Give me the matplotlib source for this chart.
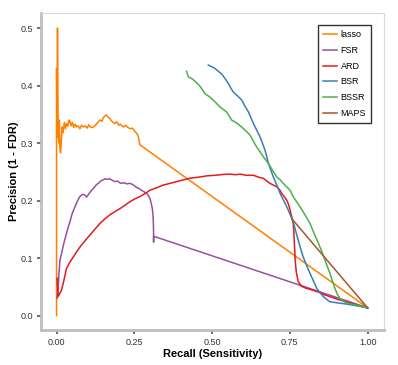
import numpy as np
import matplotlib
matplotlib.use('Agg')
import matplotlib.pyplot as plt

plt.rcParams['font.family'] = ['Liberation Sans', 'DejaVu Sans']

# precision-recall curves
lasso_recall = [0.0, 0.0, 0.002, 0.003, 0.004, 0.005, 0.007, 0.009, 0.011, 0.013, 0.015,
                0.018, 0.021, 0.025, 0.029, 0.032, 0.036, 0.040, 0.043, 0.047, 0.051,
                0.055, 0.060, 0.064, 0.070, 0.075, 0.080, 0.086, 0.092, 0.098, 0.104,
                0.110, 0.118, 0.125, 0.134, 0.140, 0.146, 0.150, 0.155, 0.160, 0.166,
                0.171, 0.176, 0.182, 0.188, 0.194, 0.200, 0.205, 0.209, 0.215, 0.222,
                0.230, 0.237, 0.244, 0.252, 0.258, 0.263, 0.268, 1.0]
lasso_prec = [0.0, 0.43, 0.31, 0.50, 0.40, 0.335, 0.30, 0.34, 0.29, 0.283, 0.30,
              0.328, 0.318, 0.336, 0.325, 0.334, 0.329, 0.340, 0.337, 0.330, 0.336,
              0.327, 0.333, 0.328, 0.330, 0.325, 0.331, 0.328, 0.330, 0.326, 0.332,
              0.327, 0.328, 0.331, 0.337, 0.340, 0.338, 0.344, 0.347, 0.349, 0.345,
              0.343, 0.339, 0.336, 0.334, 0.337, 0.331, 0.333, 0.331, 0.328, 0.331,
              0.327, 0.325, 0.326, 0.320, 0.317, 0.311, 0.297, 0.0135]

fsr_recall = [0.002, 0.005, 0.008, 0.011, 0.016, 0.021, 0.026, 0.032, 0.037, 0.043,
              0.050, 0.059, 0.067, 0.075, 0.083, 0.091, 0.0965, 0.104, 0.113, 0.120,
              0.127, 0.134, 0.142, 0.150, 0.155, 0.163, 0.171, 0.180, 0.188, 0.196,
              0.203, 0.209, 0.218, 0.226, 0.234, 0.241, 0.250, 0.257, 0.265, 0.273,
              0.282, 0.290, 0.296, 0.300, 0.304, 0.308, 0.310, 0.311, 0.312, 0.312,
              0.312, 1.0]
fsr_prec = [0.030, 0.045, 0.075, 0.0965, 0.108, 0.120, 0.131, 0.143, 0.153, 0.163,
            0.177, 0.189, 0.199, 0.207, 0.211, 0.2096, 0.206, 0.212, 0.218, 0.222,
            0.227, 0.230, 0.234, 0.236, 0.238, 0.237, 0.238, 0.235, 0.233, 0.234,
            0.231, 0.230, 0.231, 0.229, 0.230, 0.229, 0.226, 0.223, 0.221, 0.218,
            0.215, 0.2125, 0.208, 0.204, 0.196, 0.186, 0.175, 0.166, 0.145, 0.128,
            0.138, 0.0135]

ard_recall = [0.002, 0.005, 0.010, 0.016, 0.024, 0.032, 0.043, 0.054, 0.067, 0.080,
              0.093, 0.107, 0.123, 0.139, 0.155, 0.171, 0.188, 0.204, 0.220, 0.236,
              0.252, 0.268, 0.284, 0.300, 0.320, 0.343, 0.365, 0.386, 0.408, 0.429,
              0.445, 0.461, 0.483, 0.510, 0.536, 0.558, 0.575, 0.590, 0.610, 0.633,
              0.654, 0.665, 0.676, 0.686, 0.697, 0.708, 0.717, 0.724, 0.733, 0.740,
              0.746, 0.751, 0.756, 0.761, 0.763, 0.764, 0.766, 0.767, 0.771, 0.777,
              0.788, 0.800, 0.815, 0.830, 0.847, 0.862, 0.879, 0.905, 0.933, 0.960,
              0.986, 1.0]
ard_prec = [0.065, 0.033, 0.038, 0.044, 0.062, 0.082, 0.093, 0.102, 0.113, 0.1226,
            0.131, 0.140, 0.150, 0.160, 0.168, 0.175, 0.181, 0.186, 0.192, 0.198,
            0.203, 0.207, 0.212, 0.218, 0.222, 0.227, 0.230, 0.233, 0.236, 0.239,
            0.240, 0.241, 0.243, 0.244, 0.2455, 0.246, 0.245, 0.246, 0.244, 0.244,
            0.240, 0.2386, 0.234, 0.230, 0.227, 0.224, 0.219, 0.2125, 0.206, 0.201,
            0.193, 0.1835, 0.172, 0.160, 0.146, 0.131, 0.112, 0.0965, 0.075, 0.059,
            0.051, 0.048, 0.0455, 0.043, 0.040, 0.036, 0.033, 0.028, 0.024, 0.019,
            0.0153, 0.0135]

bsr_recall = [0.488, 0.498, 0.509, 0.520, 0.531, 0.542, 0.552, 0.560, 0.568, 0.582,
              0.595, 0.606, 0.617, 0.625, 0.633, 0.643, 0.654, 0.662, 0.670, 0.676,
              0.681, 0.689, 0.697, 0.708, 0.719, 0.724, 0.735, 0.745, 0.753, 0.761,
              0.769, 0.777, 0.785, 0.793, 0.804, 0.815, 0.826, 0.837, 0.848, 0.858,
              0.869, 0.879, 0.905, 0.933, 0.965, 1.0]
bsr_prec = [0.4357, 0.433, 0.430, 0.425, 0.420, 0.412, 0.404, 0.396, 0.389, 0.382,
            0.375, 0.364, 0.354, 0.344, 0.334, 0.323, 0.311, 0.300, 0.288, 0.276,
            0.265, 0.253, 0.241, 0.227, 0.2125, 0.2066, 0.195, 0.1835, 0.173, 0.163,
            0.147, 0.131, 0.116, 0.102, 0.087, 0.0734, 0.060, 0.047, 0.039, 0.033,
            0.028, 0.024, 0.022, 0.020, 0.017, 0.0135]

bssr_recall = [0.418, 0.424, 0.432, 0.440, 0.450, 0.461, 0.477, 0.493, 0.509, 0.525,
               0.547, 0.563, 0.579, 0.595, 0.609, 0.622, 0.633, 0.643, 0.654, 0.665,
               0.681, 0.694, 0.708, 0.719, 0.734, 0.751, 0.761, 0.772, 0.783, 0.799,
               0.815, 0.828, 0.842, 0.853, 0.863, 0.871, 0.879, 0.887, 0.895, 0.903,
               0.911, 0.922, 0.933, 0.965, 1.0]
bssr_prec = [0.425, 0.415, 0.413, 0.410, 0.405, 0.399, 0.386, 0.380, 0.372, 0.363,
             0.354, 0.340, 0.335, 0.328, 0.321, 0.314, 0.303, 0.2936, 0.285, 0.276,
             0.265, 0.253, 0.241, 0.236, 0.227, 0.218, 0.2066, 0.198, 0.189, 0.175,
             0.160, 0.143, 0.1256, 0.111, 0.0965, 0.085, 0.0734, 0.060, 0.047, 0.037,
             0.030, 0.025, 0.022, 0.018, 0.0135]

maps_recall = [0.757, 1.0]
maps_prec = [0.168, 0.0135]

series = [
    ('lasso', lasso_recall, lasso_prec, '#FF7F00'),
    ('FSR', fsr_recall, fsr_prec, '#984EA3'),
    ('ARD', ard_recall, ard_prec, '#E41A1C'),
    ('BSR', bsr_recall, bsr_prec, '#377EB8'),
    ('BSSR', bssr_recall, bssr_prec, '#4DAF4A'),
    ('MAPS', maps_recall, maps_prec, '#A65628'),
]

fig = plt.figure(figsize=(3.98, 3.65), dpi=100)
ax = fig.add_axes([0.103, 0.096, 0.862, 0.868])

for name, x, y, col in series:
    ax.plot(x, y, color=col, lw=1.1, label=name)

ax.set_xlim(-0.05, 1.053)
ax.set_ylim(-0.025, 0.526)
ax.set_xticks([0.0, 0.25, 0.5, 0.75, 1.0])
ax.set_xticklabels(['0.00', '0.25', '0.50', '0.75', '1.00'])
ax.set_yticks([0.0, 0.1, 0.2, 0.3, 0.4, 0.5])

for side in ['left', 'bottom']:
    ax.spines[side].set_color('#BEBEBE')
    ax.spines[side].set_linewidth(2.0)
for side in ['top', 'right']:
    ax.spines[side].set_color('#D9D9D9')
    ax.spines[side].set_linewidth(0.8)

ax.tick_params(axis='both', direction='out', length=3, width=1.2, color='#555555',
               labelsize=6.5, labelcolor='#333333', pad=2.5)

ax.set_xlabel('Recall (Sensitivity)', fontsize=8, fontweight='bold', labelpad=2)
ax.set_ylabel('Precision (1 - FDR)', fontsize=8, fontweight='bold', labelpad=1)

leg = ax.legend(loc='upper right', bbox_to_anchor=(0.962, 0.962), fontsize=6.5,
                frameon=True, fancybox=False, handlelength=1.45, handletextpad=0.45,
                labelspacing=0.75, borderpad=0.55, borderaxespad=0)
leg.get_frame().set_edgecolor('black')
leg.get_frame().set_linewidth(1.0)

fig.savefig('out.png', dpi=100)
